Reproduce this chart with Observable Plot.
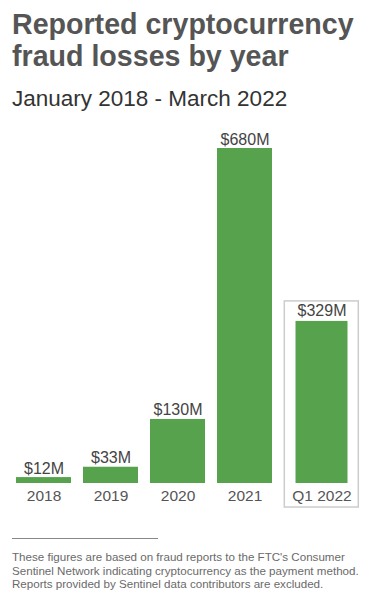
<!DOCTYPE html>
<html>
<head>
<meta charset="utf-8">
<script src="https://cdn.jsdelivr.net/npm/d3@7"></script>
<script src="https://cdn.jsdelivr.net/npm/@observablehq/plot@0.6"></script>
<style>
  html, body { margin: 0; padding: 0; background: #fff; }
  body { width: 375px; height: 600px; position: relative; overflow: hidden; font-family: "Liberation Sans", Arial, sans-serif; }
  #title { position: absolute; left: 12px; top: 8px; font-size: 28.6px; line-height: 32px; font-weight: bold; color: #555; white-space: nowrap; }
  #subtitle { position: absolute; left: 12px; top: 86px; font-size: 22.5px; line-height: 26px; color: #333; white-space: nowrap; }
  #chart { position: absolute; left: 0; top: 120px; }
  #rule { position: absolute; left: 12px; top: 538px; width: 146px; height: 1px; background: #888; }
  #note { position: absolute; left: 12px; top: 550.3px; font-size: 11.6px; line-height: 13.3px; color: #6a6a6a; white-space: nowrap; }
</style>
</head>
<body>
<div id="title">Reported cryptocurrency<br>fraud losses by year</div>
<div id="subtitle">January 2018 - March 2022</div>
<div id="chart"></div>
<div id="rule"></div>
<div id="note">These figures are based on fraud reports to the FTC's Consumer<br>Sentinel Network indicating cryptocurrency as the payment method.<br>Reports provided by Sentinel data contributors are excluded.</div>
<script>
const periods = ["2018", "2019", "2020", "2021", "Q1 2022"];
const losses = [12, 33, 130, 680, 329];
const valueLabels = ["$12M", "$33M", "$130M", "$680M", "$329M"];

const data = periods.map((p, i) => ({period: p, value: losses[i], label: valueLabels[i]}));
const annual = data.slice(0, 4);
const quarter = data.slice(4);

const green = "#57a24c";

const chart = Plot.plot({
  width: 375,
  height: 400,
  marginTop: 28,
  marginBottom: 37,
  marginLeft: 0,
  marginRight: 0,
  style: {fontFamily: "'Liberation Sans', Arial, sans-serif", background: "transparent"},
  x: {domain: periods, range: [2.4, 352.4], padding: 0.172, axis: null},
  y: {domain: [0, 680], axis: null},
  marks: [
    Plot.barY(quarter, {x: "period", y1: 0, y2: "value", fill: "none", stroke: "#cccccc", strokeWidth: 1.5,
      dx: 10, insetTop: -20, insetBottom: -24, insetLeft: -9.7, insetRight: -9.3}),
    Plot.barY(annual, {x: "period", y: "value", fill: green}),
    Plot.barY(quarter, {x: "period", y: "value", fill: green, dx: 10, insetLeft: 1.5, insetRight: 1.5}),
    Plot.text(annual, {x: "period", y: "value", text: "label", lineAnchor: "bottom", dy: -4, fontSize: 16, fill: "#444"}),
    Plot.text(quarter, {x: "period", y: "value", text: "label", lineAnchor: "bottom", dy: -5, dx: 10, fontSize: 16, fill: "#444"}),
    Plot.text(annual, {x: "period", y: 0, text: "period", lineAnchor: "bottom", dy: 17, fontSize: 15.5, fill: "#555"}),
    Plot.text(quarter, {x: "period", y: 0, text: "period", lineAnchor: "bottom", dy: 17, dx: 10, fontSize: 15.5, fill: "#555"})
  ]
});
document.getElementById("chart").appendChild(chart);
</script>
</body>
</html>
